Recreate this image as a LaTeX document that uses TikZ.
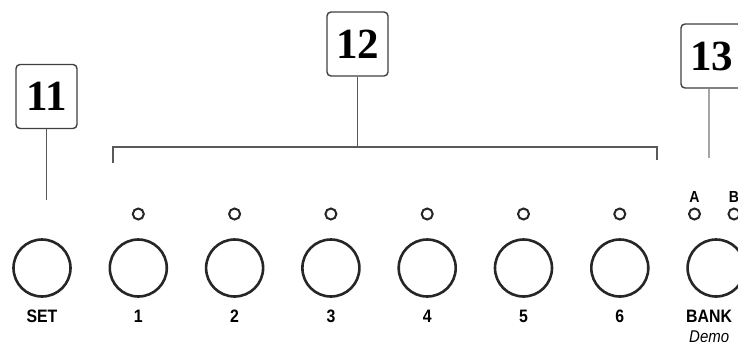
\documentclass[tikz,border=0pt]{standalone}
\usepackage{fontspec}
\setmainfont{Liberation Serif}
\newfontfamily\panelfont[FakeStretch=0.88]{Liberation Sans}
\begin{document}
\begin{tikzpicture}[x=1pt,y=-1pt,
  callout/.style={draw=black!75,line width=1.4pt,rounded corners=4pt,fill=white,
    minimum width=61pt,minimum height=64pt,inner sep=0pt,
    font=\fontsize{43}{43}\selectfont\bfseries},
  leader/.style={draw=black!65,line width=1.5pt},
  faintleader/.style={draw=black!35,line width=1.5pt},
  knob/.style={circle,draw=black!85,line width=2.6pt,minimum size=57pt,inner sep=0pt},
  lamp/.style={circle,draw=black!85,line width=2pt,minimum size=11pt,inner sep=0pt},
  keylabel/.style={anchor=base,inner sep=0pt,font=\panelfont\fontsize{18}{18}\selectfont\bfseries},
  banklabel/.style={anchor=base,inner sep=0pt,font=\panelfont\fontsize{16}{16}\selectfont\bfseries},
]
\clip (0,0) rectangle (738,341);
\useasboundingbox (0,0) rectangle (738,341);

% callout boxes
\node[callout] (c11) at (46.5,96.5) {11};
\node[callout] (c12) at (357.5,44) {12};
\node[callout] (c13) at (711.5,56) {13};

% buttons
\foreach \name/\x in {set/42,b1/138.3,b2/234.6,b3/330.9,b4/427.2,b5/523.5,b6/619.8,bank/716.1}
  \node[knob] (\name) at (\x,268) {};

% indicator lamps
\foreach \name/\x in {l1/138.3,l2/234.6,l3/330.9,l4/427.2,l5/523.5,l6/619.8,la/694.5,lb/734}
  \node[lamp] (\name) at (\x,214) {};

% button captions
\node[keylabel] (tset) at (42,322) {SET};
\foreach \n/\x in {1/138.3,2/234.6,3/330.9,4/427.2,5/523.5,6/619.8}
  \node[keylabel] (t\n) at (\x,322) {\n};
\node[keylabel,anchor=base west] (tbank) at (686,322) {BANK};
\node[anchor=base west,inner sep=0pt,font=\panelfont\fontsize{17}{17}\selectfont\itshape] (tdemo) at (689,342) {Demo};
\node[banklabel] (ta) at (694.5,202) {A};
\node[banklabel] (tb) at (734,202) {B};

% leader lines
\coordinate (p11) at (c11.south |- 0,200);
\draw[leader] (c11.south) -- (p11);

\coordinate (bl) at (113,163);
\coordinate (br) at (657,160);
\coordinate (bm) at (c12.south |- 0,147);
\draw[leader] (bl) -- (bl |- bm) -- (br |- bm) -- (br);
\draw[leader] (c12.south) -- (bm);

\coordinate (p13) at (709,158);
\draw[faintleader] (p13 |- c13.south) -- (p13);
\end{tikzpicture}
\end{document}
